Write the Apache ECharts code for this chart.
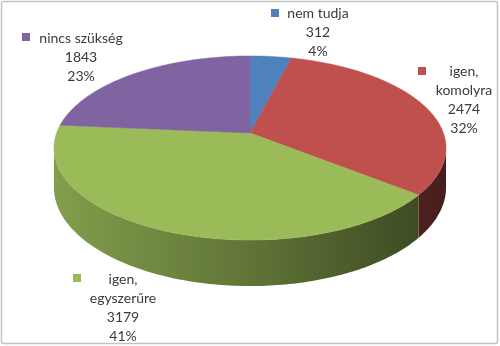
<!DOCTYPE html>
<html>
<head>
<meta charset="utf-8">
<script src="https://cdn.jsdelivr.net/npm/echarts@6/dist/echarts.min.js"></script>
<style>
html,body{margin:0;padding:0;background:#fff;}
#chart{width:500px;height:346px;}
</style>
</head>
<body>
<div id="chart"></div>
<script>
// ---- data ----
var categories = ['nem tudja', 'igen, komolyra', 'igen, egyszerűre', 'nincs szükség'];
var values = [312, 2474, 3179, 1843];
var percentLabels = ['4%', '32%', '41%', '23%'];
var colors = ['#4f81bd', '#c0504d', '#9bbb59', '#8064a2'];

// ---- layout (not data) ----
var labelLayout = [
  {x: 318, y: 13, mx: 275, my: 13},
  {x: 464, y: 71, mx: 422, my: 71},
  {x: 123, y: 279, mx: 77, my: 278},
  {x: 81, y: 38, mx: 26, my: 37}
];
var geo = {cx: 250, cy: 133, rx: 193.4, ry: 89.6, k: 0.163, depth: 38.5};

var total = values.reduce(function (a, b) { return a + b; }, 0);
var starts = [];
(function () { var acc = 0; values.forEach(function (v) { starts.push(acc); acc += v; }); })();

function proj(thetaDeg, drop) {
  var t = thetaDeg * Math.PI / 180;
  var u = Math.sin(t), v = -Math.cos(t);
  var s = 1 / (1 - geo.k * v);
  return [geo.cx + geo.rx * u * s, geo.cy + geo.ry * v * s + drop * s];
}
function hexToRgb(h) { var n = parseInt(h.slice(1), 16); return [(n >> 16) & 255, (n >> 8) & 255, n & 255]; }
function shade(h, f) { var c = hexToRgb(h); return 'rgb(' + c.map(function (x) { return Math.round(x * f); }).join(',') + ')'; }

var frontA = 90 + Math.asin(geo.k) * 180 / Math.PI;
var frontB = 360 - frontA;

function angles(idx, val) {
  var a0 = starts[idx] / total * 360;
  var a1 = (starts[idx] + val) / total * 360;
  return [a0, a1];
}

function renderWall(params, api) {
  var idx = params.dataIndex;
  var ang = angles(idx, api.value(1));
  var a = Math.max(ang[0], frontA), b = Math.min(ang[1], frontB);
  if (b <= a) return null;
  var pts = [], back = [];
  var n = Math.max(2, Math.ceil((b - a) / 1));
  for (var i = 0; i <= n; i++) {
    var th = a + (b - a) * i / n;
    pts.push(proj(th, 0));
    back.push(proj(th, geo.depth));
  }
  var poly = pts.concat(back.reverse());
  var base = colors[idx];
  return {
    type: 'polygon',
    shape: {points: poly},
    style: {
      fill: {
        type: 'linear', x: geo.cx - geo.rx, y: 0, x2: geo.cx + geo.rx, y2: 0, global: true,
        colorStops: [
          {offset: 0, color: shade(base, 0.84)},
          {offset: 0.5, color: shade(base, 0.62)},
          {offset: 1, color: shade(base, 0.37)}
        ]
      },
      stroke: null
    }
  };
}

function renderTop(params, api) {
  var idx = params.dataIndex;
  var ang = angles(idx, api.value(1));
  var pts = [[geo.cx, geo.cy]];
  var n = Math.max(2, Math.ceil((ang[1] - ang[0]) / 1));
  for (var i = 0; i <= n; i++) {
    pts.push(proj(ang[0] + (ang[1] - ang[0]) * i / n, 0));
  }
  return {
    type: 'polygon',
    shape: {points: pts},
    style: {fill: colors[idx], stroke: colors[idx], lineWidth: 0.5}
  };
}

function renderLabel(params, api) {
  var idx = params.dataIndex;
  var val = api.value(1);
  var L = labelLayout[idx];
  var name = categories[idx];
  var nameLines = name.indexOf(', ') >= 0 ? [name.split(', ')[0] + ',', name.split(', ')[1]] : [name];
  var lines = nameLines.concat([String(val), percentLabels[idx]]);
  var children = [{
    type: 'rect',
    shape: {x: L.mx - 4, y: L.my - 4, width: 8, height: 8},
    style: {fill: colors[idx]}
  }];
  lines.forEach(function (t, i) {
    children.push({
      type: 'text',
      style: {
        text: t, x: L.x, y: L.y + i * 19,
        textAlign: 'center', textVerticalAlign: 'middle',
        font: '14px Lato', fill: '#3a3a3a'
      }
    });
  });
  return {type: 'group', children: children};
}

var seriesData = categories.map(function (c, i) { return {name: c, value: [i, values[i]]}; });

var chart = echarts.init(document.getElementById('chart'), null, {renderer: 'canvas'});
chart.setOption({
  backgroundColor: '#ffffff',
  animation: false,
  graphic: [{
    type: 'rect',
    shape: {x: 1.5, y: 1.5, width: 496, height: 342, r: 2},
    style: {fill: null, stroke: '#c4c4c4', lineWidth: 1.5},
    z: 0
  }],
  series: [
    {type: 'custom', coordinateSystem: 'none', renderItem: renderWall, data: seriesData, z: 1, silent: true},
    {type: 'custom', coordinateSystem: 'none', renderItem: renderTop, data: seriesData, z: 2, silent: true},
    {type: 'custom', coordinateSystem: 'none', renderItem: renderLabel, data: seriesData, z: 3, silent: true}
  ]
});
</script>
</body>
</html>
